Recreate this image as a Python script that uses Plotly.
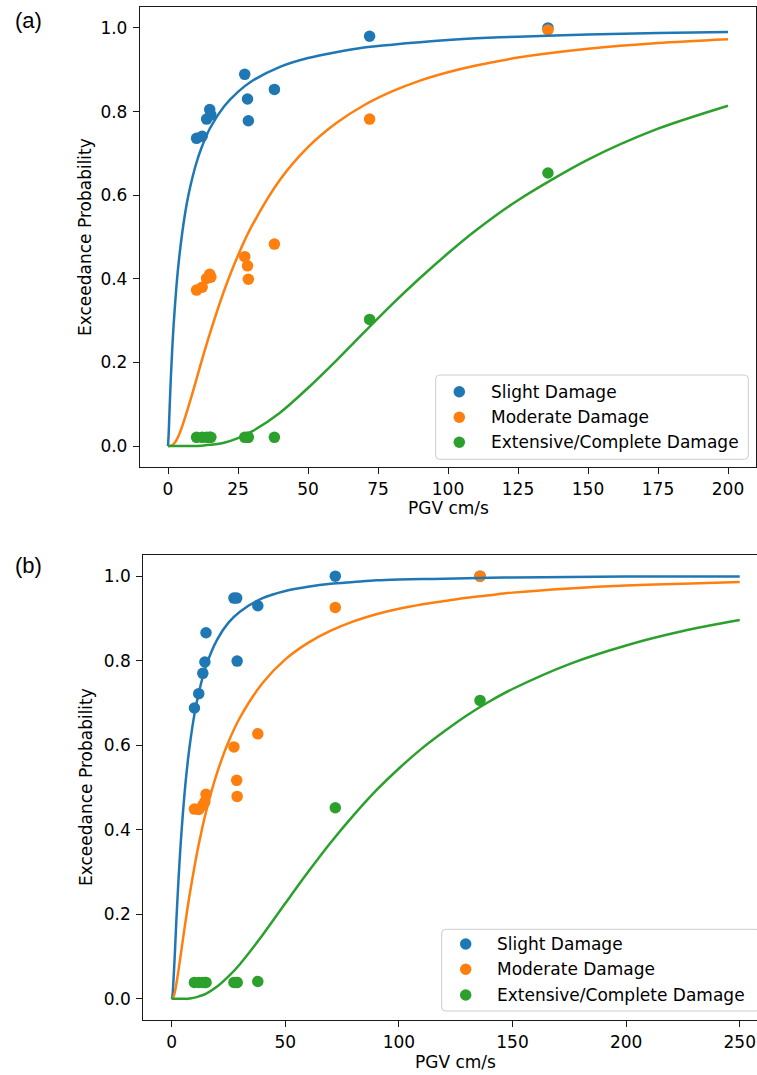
import plotly.graph_objects as go

# ---------------- data : panel (a) ----------------
pgv_a = [10.2, 12.2, 13.8, 14.9, 15.3, 27.4, 28.4, 28.7, 38.0, 72.0, 135.7]
slight_a = [0.736, 0.741, 0.782, 0.805, 0.792, 0.889, 0.830, 0.778, 0.853, 0.980, 1.000]
moderate_a = [0.373, 0.380, 0.401, 0.411, 0.404, 0.453, 0.431, 0.399, 0.483, 0.782, 0.995]
extensive_a = [0.021, 0.021, 0.021, 0.021, 0.021, 0.021, 0.021, 0.021, 0.021, 0.303, 0.653]

curve_x_a = [0, 0.25, 0.5, 1, 1.5, 2, 3, 4, 5, 6, 7, 8, 10, 12, 15, 20, 25, 30, 40, 50, 60, 70,
             80, 90, 100, 110, 125, 150, 175, 200]
curve_slight_a = [0, 0.031, 0.077, 0.161, 0.230, 0.289, 0.381, 0.451, 0.506, 0.552, 0.590, 0.622,
                  0.674, 0.714, 0.760, 0.812, 0.847, 0.873, 0.907, 0.928, 0.942, 0.953, 0.960,
                  0.966, 0.971, 0.975, 0.979, 0.984, 0.988, 0.990]
curve_moderate_a = [0, 0, 0, 0.001, 0.002, 0.005, 0.014, 0.028, 0.046, 0.066, 0.088, 0.110, 0.156,
                    0.203, 0.270, 0.371, 0.456, 0.527, 0.637, 0.715, 0.772, 0.815, 0.848, 0.874,
                    0.894, 0.910, 0.929, 0.950, 0.964, 0.973]
curve_extensive_a = [0, 0, 0, 0, 0, 0, 0, 0, 0, 0, 0, 0, 0, 0.001, 0.003, 0.008, 0.019, 0.035,
                     0.080, 0.139, 0.204, 0.272, 0.339, 0.402, 0.461, 0.516, 0.588, 0.685, 0.759,
                     0.814]

# ---------------- data : panel (b) ----------------
pgv_b = [10.0, 11.9, 13.7, 14.6, 15.1, 27.4, 28.6, 28.8, 37.9, 72.0, 135.7]
slight_b = [0.688, 0.722, 0.770, 0.797, 0.866, 0.948, 0.948, 0.799, 0.930, 1.000, 1.000]
moderate_b = [0.449, 0.448, 0.458, 0.466, 0.484, 0.596, 0.517, 0.479, 0.627, 0.926, 1.000]
extensive_b = [0.039, 0.039, 0.039, 0.039, 0.039, 0.039, 0.039, 0.039, 0.041, 0.452, 0.706]

curve_x_b = [0, 0.25, 0.5, 1, 1.5, 2, 3, 4, 5, 6, 7, 8, 10, 12, 15, 20, 25, 30, 40, 50, 60, 70,
             80, 90, 100, 110, 120, 130, 140, 150, 175, 200, 225, 250]
curve_slight_b = [0, 0.004, 0.018, 0.066, 0.120, 0.180, 0.283, 0.371, 0.444, 0.506, 0.558, 0.602,
                  0.673, 0.726, 0.786, 0.850, 0.890, 0.916, 0.948, 0.965, 0.975, 0.982, 0.986,
                  0.990, 0.992, 0.993, 0.994, 0.995, 0.996, 0.997, 0.998, 0.999, 0.999, 0.999]
curve_moderate_b = [0, 0, 0.001, 0.008, 0.019, 0.034, 0.068, 0.105, 0.143, 0.180, 0.216, 0.250,
                    0.312, 0.368, 0.440, 0.535, 0.608, 0.665, 0.747, 0.803, 0.842, 0.871, 0.893,
                    0.910, 0.923, 0.933, 0.941, 0.949, 0.955, 0.961, 0.971, 0.978, 0.982, 0.986]
curve_extensive_b = [0, 0, 0, 0, 0, 0, 0, 0.001, 0.003, 0.006, 0.012, 0.029, 0.053,
                     0.082, 0.151, 0.226, 0.300, 0.370, 0.434, 0.493, 0.545, 0.592, 0.633, 0.671,
                     0.704, 0.733, 0.792, 0.836, 0.870, 0.896]
curve_extensive_b = [0, 0, 0, 0] + curve_extensive_b

series_names = ["Slight Damage", "Moderate Damage", "Extensive/Complete Damage"]
x_ticks_a = [0, 25, 50, 75, 100, 125, 150, 175, 200]
x_ticks_b = [0, 50, 100, 150, 200, 250]
y_ticks = [0.0, 0.2, 0.4, 0.6, 0.8, 1.0]

# ---------------- layout helpers ----------------
W_FIG, H_FIG = 757, 1075
ML, MR, MT, MB = 140, 0, 7, 55
PW = W_FIG - ML - MR
PH = H_FIG - MT - MB


def fx(p):
    return (p - ML) / PW


def fy(p):
    return (H_FIG - MB - p) / PH


COLORS = ["#1f77b4", "#ff7f0e", "#2ca02c"]
FONT = "DejaVu Sans"
INK = "#000000"
SPINE = "#1a1a1a"

fig = go.Figure()

panels = [
    dict(xa="x", ya="y", pgv=pgv_a, pts=[slight_a, moderate_a, extensive_a],
         cx=curve_x_a, curves=[curve_slight_a, curve_moderate_a, curve_extensive_a]),
    dict(xa="x2", ya="y2", pgv=pgv_b, pts=[slight_b, moderate_b, extensive_b],
         cx=curve_x_b, curves=[curve_slight_b, curve_moderate_b, curve_extensive_b]),
]

for p in panels:
    for vals, col, name in zip(p["pts"], COLORS, series_names):
        fig.add_trace(go.Scatter(x=p["pgv"], y=vals, mode="markers", name=name,
                                 marker=dict(size=11.5, color=col, line=dict(width=0)),
                                 xaxis=p["xa"], yaxis=p["ya"], showlegend=False))
    for vals, col, name in zip(p["curves"], COLORS, series_names):
        fig.add_trace(go.Scatter(x=p["cx"], y=vals, mode="lines", name=name,
                                 line=dict(color=col, width=2.5, shape="spline", smoothing=0.8),
                                 xaxis=p["xa"], yaxis=p["ya"], showlegend=False))

axis_common = dict(showgrid=False, zeroline=False, showline=True, linecolor=SPINE, linewidth=1.3,
                   ticks="outside", ticklen=6, tickwidth=1.3, tickcolor=SPINE,
                   tickfont=dict(family=FONT, size=17, color=INK), automargin=False,
                   fixedrange=True)

fig.update_layout(
    width=W_FIG, height=H_FIG,
    margin=dict(l=ML, r=MR, t=MT, b=MB, pad=0),
    paper_bgcolor="white", plot_bgcolor="white",
    showlegend=False,
    xaxis=dict(domain=[0, fx(756)], range=[-10, 210], tickvals=x_ticks_a, mirror=True,
               anchor="y", **axis_common),
    yaxis=dict(domain=[fy(467), 1], range=[-0.05, 1.05], tickvals=y_ticks, tickformat=".1f",
               mirror=True, anchor="x", ticklabelstandoff=2, **axis_common),
    xaxis2=dict(domain=[fx(143.3), 1], range=[-12.5, 257.6], tickvals=x_ticks_b, mirror=True,
                anchor="y2", **axis_common),
    yaxis2=dict(domain=[0, fy(555)], range=[-0.05, 1.05], tickvals=y_ticks, tickformat=".1f",
                mirror=False, anchor="x2", ticklabelstandoff=2, **axis_common),
)


def text(x, y, s, size=17, family=FONT, angle=0, xanchor="center"):
    fig.add_annotation(x=fx(x), y=fy(y), xref="paper", yref="paper", text=s, showarrow=False,
                       textangle=angle, xanchor=xanchor, yanchor="middle",
                       font=dict(family=family, size=size, color=INK))


# axis titles and panel labels
text(85, 237, "Exceedance Probability", angle=-90)
text(86, 787, "Exceedance Probability", angle=-90)
text(448, 508, "PGV cm/s")
text(455.6, 1062, "PGV cm/s")
text(28, 21, "(a)", size=22, family="Liberation Sans")
text(28, 565, "(b)", size=22, family="Liberation Sans")


def rounded_box(left, top, right, bottom, r=4):
    w = right - left
    h = bottom - top
    path = (f"M {r},0 L {w - r},0 Q {w},0 {w},{r} L {w},{h - r} Q {w},{h} {w - r},{h} "
            f"L {r},{h} Q 0,{h} 0,{h - r} L 0,{r} Q 0,0 {r},0 Z")
    fig.add_shape(type="path", xref="paper", yref="paper", xsizemode="pixel", ysizemode="pixel",
                  xanchor=fx(left), yanchor=fy(bottom), path=path,
                  line=dict(color="#cccccc", width=1), fillcolor="rgba(255,255,255,0.8)",
                  layer="above")


def legend(left, top, right, bottom, rows, marker_x, text_x):
    rounded_box(left, top, right, bottom)
    for ry, col, name in zip(rows, COLORS, series_names):
        fig.add_shape(type="circle", xref="paper", yref="paper", xsizemode="pixel",
                      ysizemode="pixel", xanchor=fx(marker_x), yanchor=fy(ry),
                      x0=-5.75, x1=5.75, y0=-5.75, y1=5.75, fillcolor=col,
                      line=dict(width=0), layer="above")
        text(text_x, ry, name, xanchor="left")


legend(435.7, 375, 748.3, 459.3, [391.7, 417.3, 442.3], 459.3, 488.5)
legend(441.7, 929.3, 760, 1011, [944, 969.3, 995], 465.7, 495)

fig.write_html(
    "out.html",
    config={"displayModeBar": False},
    post_script="document.body.style.margin='0';document.body.style.overflow='hidden';",
)
